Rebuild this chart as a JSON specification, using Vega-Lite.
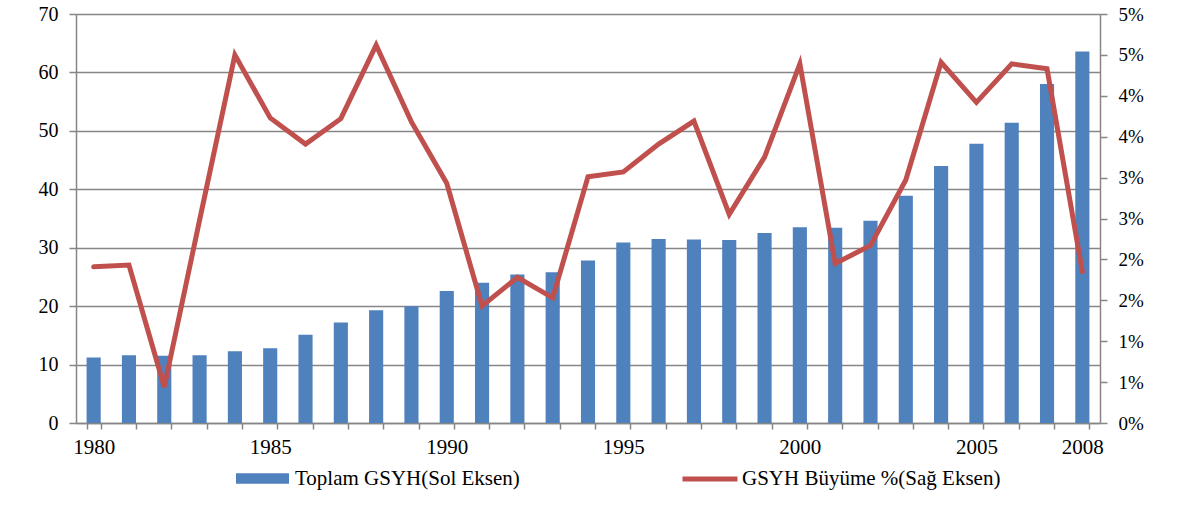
{
  "$schema": "https://vega.github.io/schema/vega-lite/v6.json",
  "width": 1024,
  "height": 409,
  "autosize": {"type": "none"},
  "padding": {"left": 76, "top": 14, "right": 83, "bottom": 83},
  "background": "white",
  "config": {
    "view": {"stroke": null},
    "font": "Times New Roman, Tinos, Noto Serif, DejaVu Serif, serif",
    "axis": {
      "domainColor": "#868686",
      "domainWidth": 1.5,
      "tickColor": "#868686",
      "tickWidth": 1.5,
      "labelColor": "#000000",
      "labelFont": "Times New Roman, Tinos, Noto Serif, DejaVu Serif, serif",
      "title": null
    },
    "legend": {"labelFont": "Times New Roman, Tinos, Noto Serif, DejaVu Serif, serif", "labelColor": "#000000"}
  },
  "data": {
    "values": [
      {"year": 1980, "gsyh": 11.2, "growth": 1.91},
      {"year": 1981, "gsyh": 11.6, "growth": 1.93},
      {"year": 1982, "gsyh": 11.5, "growth": 0.44},
      {"year": 1983, "gsyh": 11.6, "growth": 2.48},
      {"year": 1984, "gsyh": 12.3, "growth": 4.50},
      {"year": 1985, "gsyh": 12.8, "growth": 3.73},
      {"year": 1986, "gsyh": 15.1, "growth": 3.41},
      {"year": 1987, "gsyh": 17.2, "growth": 3.72},
      {"year": 1988, "gsyh": 19.3, "growth": 4.62},
      {"year": 1989, "gsyh": 20.0, "growth": 3.68},
      {"year": 1990, "gsyh": 22.6, "growth": 2.93},
      {"year": 1991, "gsyh": 24.0, "growth": 1.43},
      {"year": 1992, "gsyh": 25.4, "growth": 1.78},
      {"year": 1993, "gsyh": 25.8, "growth": 1.53},
      {"year": 1994, "gsyh": 27.8, "growth": 3.01},
      {"year": 1995, "gsyh": 30.9, "growth": 3.07},
      {"year": 1996, "gsyh": 31.5, "growth": 3.41},
      {"year": 1997, "gsyh": 31.4, "growth": 3.69},
      {"year": 1998, "gsyh": 31.3, "growth": 2.55},
      {"year": 1999, "gsyh": 32.5, "growth": 3.25},
      {"year": 2000, "gsyh": 33.5, "growth": 4.39},
      {"year": 2001, "gsyh": 33.4, "growth": 1.95},
      {"year": 2002, "gsyh": 34.6, "growth": 2.17},
      {"year": 2003, "gsyh": 38.9, "growth": 2.97},
      {"year": 2004, "gsyh": 44.0, "growth": 4.41},
      {"year": 2005, "gsyh": 47.8, "growth": 3.92},
      {"year": 2006, "gsyh": 51.4, "growth": 4.39},
      {"year": 2007, "gsyh": 58.0, "growth": 4.33},
      {"year": 2008, "gsyh": 63.6, "growth": 1.85}
    ]
  },
  "encoding": {
    "x": {
      "field": "year",
      "type": "ordinal",
      "scale": {"paddingInner": 0.6, "paddingOuter": 0.3},
      "axis": {
        "labelAngle": 0,
        "tickBand": "extent",
        "tickSize": 6,
        "labelPadding": 7,
        "labelFontSize": 21,
        "labelExpr": "(datum.value % 5 == 0 || datum.value == 2008) ? datum.label : ''"
      }
    }
  },
  "layer": [
    {
      "mark": {"type": "bar", "color": "#4F81BD"},
      "encoding": {
        "y": {
          "field": "gsyh",
          "type": "quantitative",
          "scale": {"domain": [0, 70], "nice": false},
          "axis": {
            "orient": "left",
            "values": [0, 10, 20, 30, 40, 50, 60, 70],
            "grid": true,
            "gridColor": "#868686",
            "gridWidth": 1.5,
            "tickSize": 7,
            "labelPadding": 11,
            "labelFontSize": 20
          }
        },
        "fill": {
          "datum": "Toplam GSYH(Sol Eksen)",
          "type": "nominal",
          "scale": {"range": ["#4F81BD"]},
          "legend": {
            "orient": "none",
            "legendX": 160,
            "legendY": 438,
            "title": null,
            "symbolType": "M-1,-0.2H1V0.2H-1Z",
            "symbolSize": 2809,
            "symbolStrokeWidth": 0,
            "labelFontSize": 21,
            "labelOffset": 6,
            "labelLimit": 400
          }
        }
      }
    },
    {
      "mark": {"type": "line", "strokeWidth": 5, "color": "#C0504D", "strokeCap": "round"},
      "encoding": {
        "y": {
          "field": "growth",
          "type": "quantitative",
          "scale": {"domain": [0, 5], "nice": false},
          "axis": {
            "orient": "right",
            "values": [0, 0.5, 1, 1.5, 2, 2.5, 3, 3.5, 4, 4.5, 5],
            "grid": false,
            "tickSize": 7,
            "labelPadding": 11,
            "labelFontSize": 19,
            "labelExpr": "round(datum.value) + '%'"
          }
        },
        "stroke": {
          "datum": "GSYH Büyüme %(Sağ Eksen)",
          "type": "nominal",
          "scale": {"range": ["#C0504D"]},
          "legend": {
            "orient": "none",
            "legendX": 604,
            "legendY": 435,
            "title": null,
            "symbolType": "stroke",
            "symbolSize": 3025,
            "symbolStrokeWidth": 5,
            "labelFontSize": 21,
            "labelOffset": 2,
            "labelLimit": 400
          }
        }
      }
    }
  ],
  "resolve": {"scale": {"y": "independent"}}
}
